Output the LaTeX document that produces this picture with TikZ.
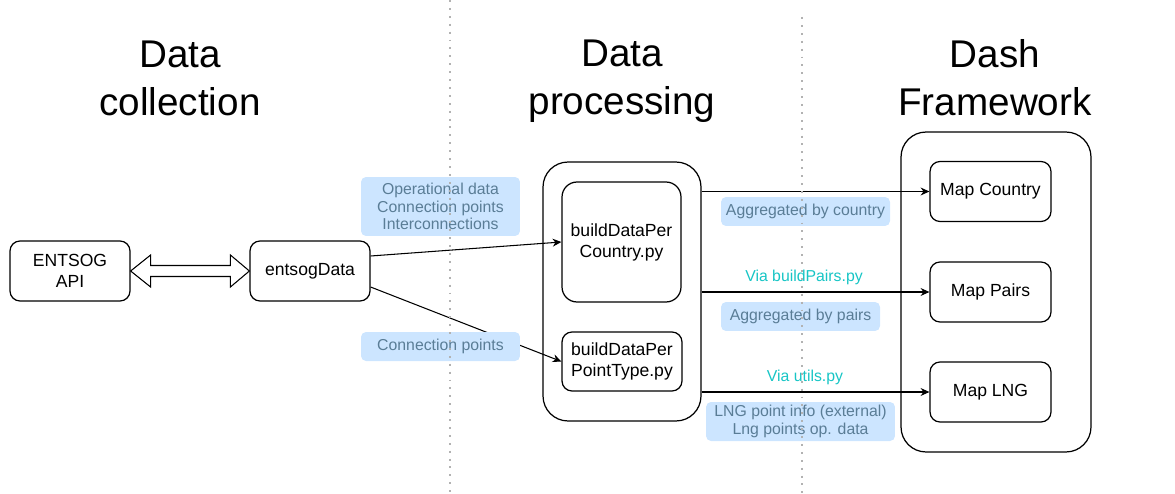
\documentclass[tikz,border=0pt]{standalone}
\usepackage{fontspec}
\setmainfont{Liberation Sans}
\usepackage{tikz}
\usetikzlibrary{calc, arrows.meta, positioning}
\definecolor{lblfill}{HTML}{CCE5FF}
\definecolor{lbltext}{HTML}{5A7D96}
\definecolor{viatext}{HTML}{17C5C5}
\tikzset{
  block/.style={
    rectangle, rounded corners=0.2cm, draw=black, line width=0.7pt,
    minimum width=2.4cm, minimum height=1.2cm, align=center,
    font=\fontsize{10}{12}\selectfont
  },
  group/.style={
    rectangle, rounded corners=0.5cm, draw=black, line width=0.7pt
  },
  lbl/.style={
    rectangle, rounded corners=0.1cm, fill=lblfill, text=lbltext,
    align=center, inner sep=0pt, font=\fontsize{9}{9.8}\selectfont
  },
  via/.style={
    text=viatext, font=\fontsize{9}{10}\selectfont
  },
  heading/.style={
    align=center, font=\fontsize{22}{27.2}\selectfont
  },
  arrow/.style={
    -{Stealth[length=5pt,width=4.5pt]}, line width=0.6pt
  },
  flexarrow/.style={
    draw=black, fill=white, line width=0.6pt, line join=miter
  },
  divider/.style={
    gray!60, line width=1pt, dash pattern=on 1.1pt off 3.4pt
  }
}

\begin{document}
\begin{tikzpicture}[x=0.02cm, y=-0.02cm]
\useasboundingbox (0,0) rectangle (1175,493);

\node[heading] (t1) at (180,78) {Data\\collection};
\node[heading] (t2) at (622,81) {Data\\processing};
\node[heading] (t3) at (995,78) {Dash\\Framework};

\node[block] (api) at (70,271) {ENTSOG\\API};
\node[block] (data) at (310,271) {entsogData};

\node[group, minimum width=3.16cm, minimum height=5.18cm] (proc) at (622,291.5) {};
\node[block, rounded corners=0.3cm, minimum width=2.38cm, minimum height=2.4cm] (country) at (621.5,242) {buildDataPer\\Country.py};
\node[block, minimum height=1.18cm] (pointtype) at (622,361.5) {buildDataPer\\PointType.py};

\node[group, minimum width=3.8cm, minimum height=6.4cm] (dash) at (996,292) {};
\node[block, minimum width=2.42cm] (mapc) at (990.5,191.5) {Map Country};
\node[block, minimum width=2.42cm] (mapp) at (990.5,292) {Map Pairs};
\node[block, minimum width=2.42cm] (mapl) at (990.5,392) {Map LNG};

\draw[flexarrow] (api.east) -- ++(20,-16) -- ++(0,10.5) -- ($(data.west)+(-19,-5.5)$)
  -- ++(0,-10.5) -- (data.west) -- ++(-19,16) -- ++(0,-10.5)
  -- ($(api.east)+(20,5.5)$) -- ++(0,10.5) -- cycle;

\draw[arrow] ($(data.east)+(0,-15)$) -- (country.west);
\draw[arrow] ($(data.east)+(0,16)$) -- (pointtype.west);
\draw[arrow] (proc.east |- mapc.west) -- (mapc.west);
\draw[arrow] (proc.east |- mapp.west) -- (mapp.west);
\draw[arrow] (proc.east |- mapl.west) -- (mapl.west);

\node[lbl, minimum width=3.18cm, minimum height=1.18cm] (l1) at (440.5,206.5) {Operational data\\Connection points\\Interconnections};
\node[lbl, minimum width=3.18cm, minimum height=0.58cm] (l2) at (440.5,346.5) {Connection points};
\node[lbl, minimum width=3.38cm, minimum height=0.58cm] (l3) at (805.5,211.5) {Aggregated by country};
\node[lbl, minimum width=3.18cm, minimum height=0.58cm] (l4) at (800.5,316.5) {Aggregated by pairs};
\node[lbl, minimum width=3.78cm, minimum height=0.78cm] (l5) at (800.5,421.5) {LNG point info (external)\\Lng points op. data};
\node[via] (v1) at (804,277) {Via buildPairs.py};
\node[via] (v2) at (805,377) {Via utils.py};

\draw[divider] (450,0) -- (450,493);
\draw[divider] (802,17) -- (802,493);
\end{tikzpicture}
\end{document}
